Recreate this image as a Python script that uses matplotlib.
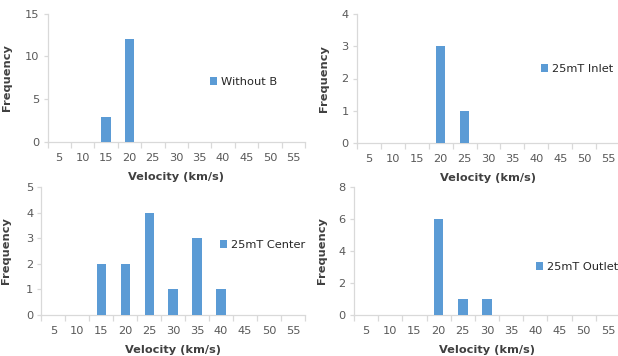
import matplotlib
matplotlib.use("Agg")
import matplotlib.pyplot as plt
import numpy as np

plt.rcParams['font.family'] = ['DejaVu Sans']

categories = ["5", "10", "15", "20", "25", "30", "35", "40", "45", "50", "55"]
without_b = [0, 0, 3, 12, 0, 0, 0, 0, 0, 0, 0]
inlet_25mT = [0, 0, 0, 3, 1, 0, 0, 0, 0, 0, 0]
center_25mT = [0, 0, 2, 2, 4, 1, 3, 1, 0, 0, 0]
outlet_25mT = [0, 0, 0, 6, 1, 1, 0, 0, 0, 0, 0]

series = [
    ("Without B", without_b, 15, 5),
    ("25mT Inlet", inlet_25mT, 4, 1),
    ("25mT Center", center_25mT, 5, 1),
    ("25mT Outlet", outlet_25mT, 8, 2),
]

W, H = 618, 356
fig = plt.figure(figsize=(W / 100, H / 100), dpi=100)

# pixel boxes: (left, top, right, bottom)
boxes = [
    (47.5, 13.5, 305, 142.3),
    (357, 14, 620, 143),
    (41.5, 187, 305, 315),
    (354, 187, 620, 315),
]
legend_pos = [(210, 82), (541, 69), (220, 245), (536, 267)]
ylabel_off = [35, 28, 30, 27]

bar_color = "#5B9BD5"
axis_color = "#D9D9D9"
tick_text = "#595959"
fs = 8.2

for (name, vals, ymax, ystep), (l, t, r, b), (lx, ly), yoff in zip(series, boxes, legend_pos, ylabel_off):
    ax = fig.add_axes([l / W, (H - b) / H, (r - l) / W, (b - t) / H])
    x = np.arange(len(categories))
    ax.bar(x, vals, width=0.4, color=bar_color, label=name, zorder=3)
    ax.set_xlim(-0.5, len(categories) - 0.5)
    ax.set_ylim(0, ymax)
    ax.set_yticks(np.arange(0, ymax + 0.001, ystep))
    ax.set_xticks(x)
    ax.set_xticklabels(categories)
    ax.set_xticks(np.arange(-0.5, len(categories), 1.0), minor=True)
    for s in ["top", "right"]:
        ax.spines[s].set_visible(False)
    for s in ["left", "bottom"]:
        ax.spines[s].set_color(axis_color)
        ax.spines[s].set_linewidth(0.9)
    ax.tick_params(axis="x", which="major", length=0, pad=8, labelsize=fs, labelcolor=tick_text)
    ax.tick_params(axis="x", which="minor", length=4, width=0.9, color=axis_color)
    ax.tick_params(axis="y", which="major", length=3, width=0.9, color=axis_color, pad=3,
                   labelsize=fs, labelcolor=tick_text)
    ax.set_xlabel("Velocity (km/s)", fontsize=fs, fontweight="bold", color="#404040")
    ax.set_ylabel("Frequency", fontsize=fs, fontweight="bold", color="#404040")
    wpx, hpx = r - l, b - t
    ax.xaxis.set_label_coords(0.5, -30 / hpx)
    ax.yaxis.set_label_coords(-yoff / wpx, 0.5)
    ax.legend(loc="center left", bbox_to_anchor=(lx / W, (H - ly) / H),
              bbox_transform=fig.transFigure, frameon=False, fontsize=fs,
              handlelength=0.6, handleheight=0.6, handletextpad=0.4,
              borderpad=0, borderaxespad=0, labelcolor="#262626")

fig.savefig("out.png", dpi=100)
